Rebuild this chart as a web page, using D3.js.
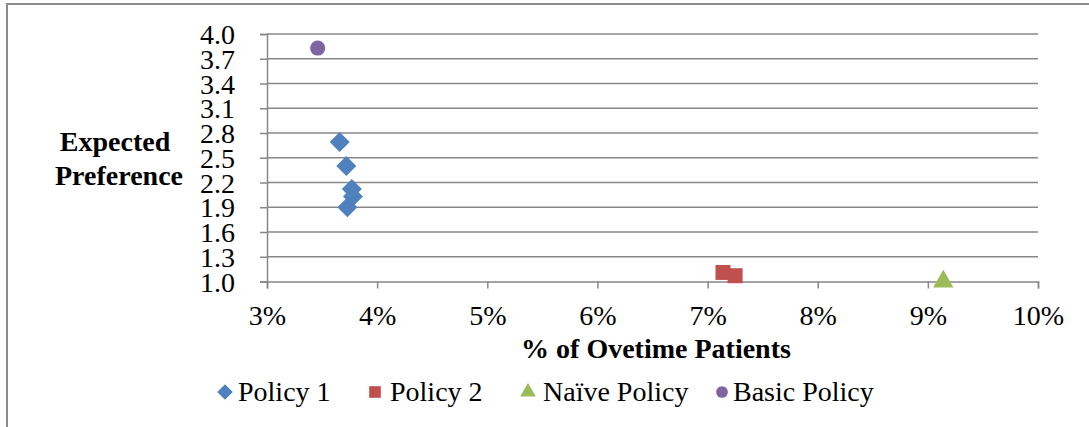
<!DOCTYPE html>
<html>
<head>
<meta charset="utf-8">
<script src="https://cdn.jsdelivr.net/npm/d3@7"></script>
<style>
  body { margin: 0; background: #fff; }
  svg text { font-family: "Liberation Serif", "Times New Roman", serif; fill: #000; }
</style>
</head>
<body>
<svg width="1089" height="427"></svg>
<script>

// DATA

var policy1X = [3.66, 3.72, 3.77, 3.78, 3.73];
var policy1Y = [2.69, 2.40, 2.12, 2.03, 1.90];
var policy2X = [7.14, 7.25];
var policy2Y = [1.11, 1.07];
var naiveX = [9.14];
var naiveY = [1.0];
var basicX = [3.46];
var basicY = [3.83];

var xTicks = [3, 4, 5, 6, 7, 8, 9, 10];
var yTicks = [1.0, 1.3, 1.6, 1.9, 2.2, 2.5, 2.8, 3.1, 3.4, 3.7, 4.0];

var seriesNames = ["Policy 1", "Policy 2", "Naïve Policy", "Basic Policy"];


var svg = d3.select("svg"),
    width = +svg.attr("width"),
    height = +svg.attr("height");

var gridColor = "#878787";
var fontSize = 28;

var series = [
    {name: seriesNames[0], xs: policy1X, ys: policy1Y, color: "#4F81BD", shape: "diamond"},
    {name: seriesNames[1], xs: policy2X, ys: policy2Y, color: "#C0504D", shape: "square"},
    {name: seriesNames[2], xs: naiveX, ys: naiveY, color: "#9BBB59", shape: "triangle"},
    {name: seriesNames[3], xs: basicX, ys: basicY, color: "#8064A2", shape: "circle"}
];

// outer frame (only top + left visible)
svg.append("path")
    .attr("d", "M7,427 L7,4 L1089,4")
    .attr("fill", "none")
    .attr("stroke", "#8c8c8c")
    .attr("stroke-width", 2);

var x = d3.scaleLinear()
    .domain([3, 10])
    .range([267, 1038]);

var y = d3.scaleLinear()
    .domain([1.0, 4.0])
    .range([281.5, 34]);

// horizontal gridlines
svg.append("g")
    .selectAll("line")
    .data(yTicks.slice(1))
    .enter().append("line")
    .attr("x1", x(3))
    .attr("x2", x(10))
    .attr("y1", function (d) { return y(d); })
    .attr("y2", function (d) { return y(d); })
    .attr("stroke", gridColor)
    .attr("stroke-width", 1.5);

var xAxis = d3.axisBottom(x)
    .tickValues(xTicks)
    .tickSize(7)
    .tickPadding(36)
    .tickFormat(function (d) { return d + "%"; });

var yAxis = d3.axisLeft(y)
    .tickValues(yTicks)
    .tickSize(7)
    .tickPadding(25)
    .tickFormat(d3.format(".1f"));

var gX = svg.append("g")
    .attr("transform", "translate(0," + y(1.0) + ")")
    .call(xAxis);

var gY = svg.append("g")
    .attr("transform", "translate(" + x(3) + ",0)")
    .call(yAxis);

[gX, gY].forEach(function (g) {
    g.attr("font-family", null).attr("font-size", null);
    g.select(".domain").attr("stroke", gridColor).attr("stroke-width", 1.5);
    g.selectAll(".tick line").attr("stroke", gridColor).attr("stroke-width", 1.5);
    g.selectAll("text")
        .style("font-size", fontSize + "px")
        .attr("fill", "#000");
});
gY.selectAll("text").attr("dy", "0.34em");
gX.selectAll("text").attr("dy", "0");

// axis titles
svg.append("text")
    .attr("x", 656)
    .attr("y", 358)
    .attr("text-anchor", "middle")
    .style("font-size", fontSize + "px")
    .attr("font-weight", "bold")
    .text("% of Ovetime Patients");

svg.append("text")
    .attr("x", 115)
    .attr("y", 151)
    .attr("text-anchor", "middle")
    .style("font-size", fontSize + "px")
    .attr("font-weight", "bold")
    .text("Expected");

svg.append("text")
    .attr("x", 119)
    .attr("y", 185)
    .attr("text-anchor", "middle")
    .style("font-size", fontSize + "px")
    .attr("font-weight", "bold")
    .text("Preference");


function symbolPath(shape, big) {
    var k = big ? 1 : 0.6;
    if (shape == "diamond") return d3.symbol(d3.symbolSquare, 200 * k)();
    if (shape == "square") return d3.symbol(d3.symbolSquare, 225 * k)();
    if (shape == "triangle") return d3.symbol(d3.symbolTriangle, 180 * k)();
    return d3.symbol(d3.symbolCircle, 180 * k)();
}

// points
var scatter = svg.append("g").attr("id", "scatterplot");

series.forEach(function (s) {
    var pts = s.xs.map(function (v, i) { return {x: v, y: s.ys[i]}; });
    scatter.append("g")
        .selectAll("path")
        .data(pts)
        .enter().append("path")
        .attr("d", symbolPath(s.shape, true))
        .attr("fill", s.color)
        .attr("transform", function (d) {
            return "translate(" + x(d.x) + "," + y(d.y) + ")" +
                (s.shape == "diamond" ? " rotate(45)" : "");
        });
});

// legend
var legendPos = [225, 375, 528, 722];
var legendText = [238, 390, 543, 733];
var legend = svg.append("g");

series.forEach(function (s, i) {
    legend.append("path")
        .attr("d", symbolPath(s.shape, false))
        .attr("fill", s.color)
        .attr("transform", "translate(" + legendPos[i] + ",392)" +
            (s.shape == "diamond" ? " rotate(45)" : ""));
    legend.append("text")
        .attr("x", legendText[i])
        .attr("y", 401)
        .style("font-size", fontSize + "px")
        .text(s.name);
});

</script>
</body>
</html>
